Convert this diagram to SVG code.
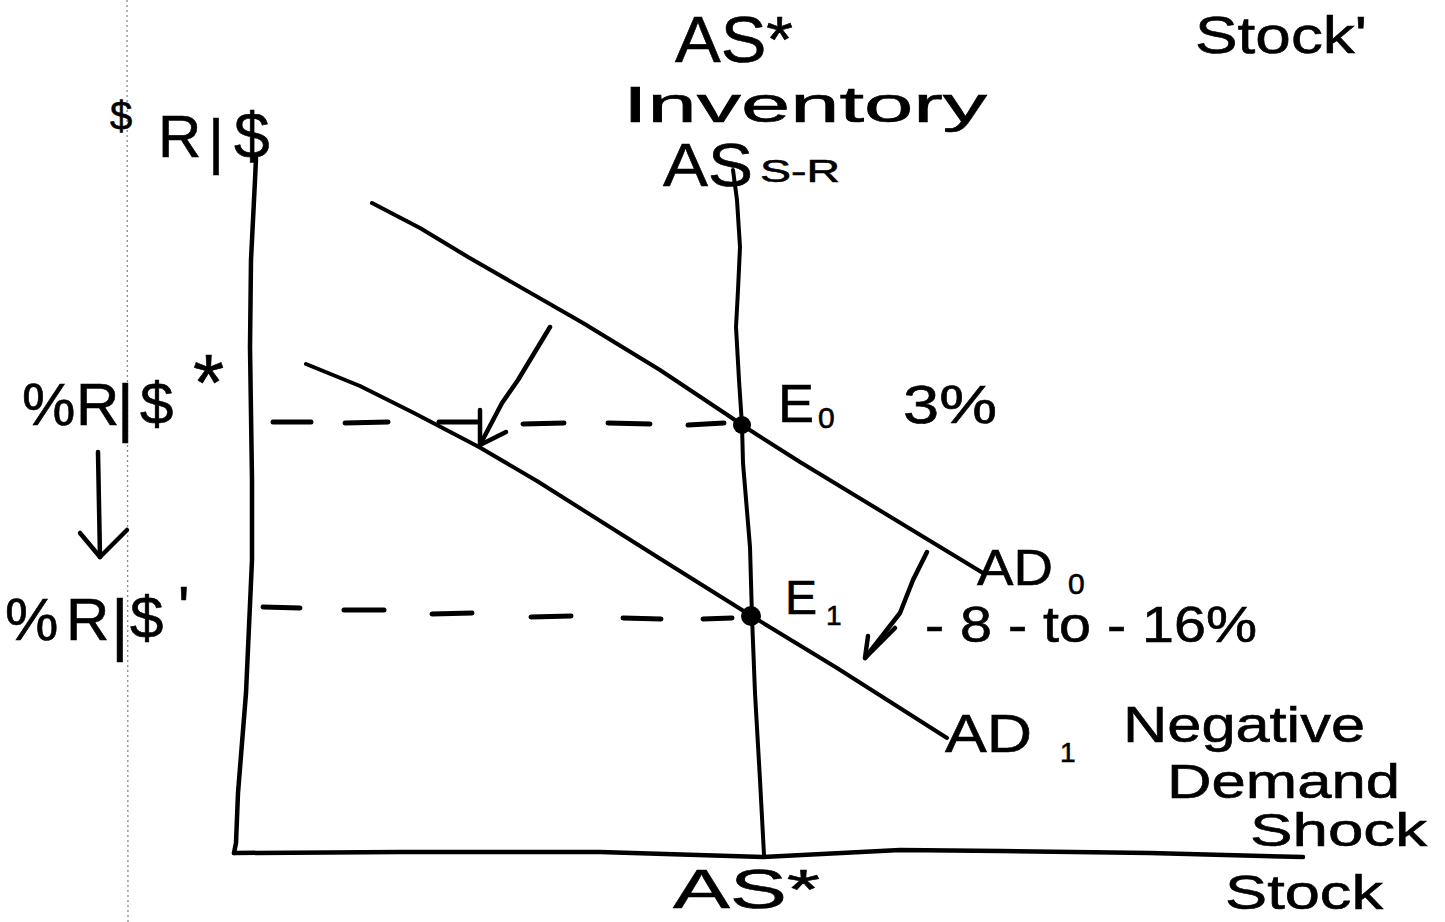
<svg xmlns="http://www.w3.org/2000/svg" width="1445" height="922" viewBox="0 0 1445 922">
<style>
  .ink { fill: none; stroke: #000; stroke-linecap: round; stroke-linejoin: round; }
  .axis { stroke-width: 4.5; }
  .curve { stroke-width: 4; }
  .dash { stroke-width: 5; }
  .arrow { stroke-width: 4.5; }
  .lbl { font-family: "Liberation Sans", Arial, sans-serif; fill: #000; stroke: #000; stroke-width: 0.6; }
  .fold { fill: none; stroke: #8a8a8a; stroke-width: 1.3; stroke-dasharray: 2 3; }
</style>
<rect width="1445" height="922" fill="#fff"/>

<!-- scan fold line -->
<line class="fold" x1="127" y1="0" x2="128" y2="922"/>

<g id="axes">
  <path class="ink axis" d="M256,158 L255,180 L251,260 L250,347 L252,480 L252,560 L246,693 L238,793 L236,843 L234,853"/>
  <path class="ink axis" d="M234,853 L400,852 L600,852 L763,857 L900,850 L1000,851 L1150,853 L1303,857"/>
</g>

<g id="as-curve">
  <path class="ink curve" d="M733,170 L737,200 L740,247 L738,290 L736,327 L739,380 L742,425 L743,463 L750,547 L752,617 L755,693 L760,780 L764,855"/>
</g>

<g id="ad0-curve">
  <path class="ink curve" d="M372,203 L420,228 L468,257 L583,323 L660,370 L732,418 L742,425 L800,462 L983,573"/>
</g>

<g id="ad1-curve">
  <path class="ink curve" d="M306,364 L360,386 L414,413 L479,447 L537,481 L659,558 L750,615 L837,668 L947,738"/>
</g>

<g id="guides">
  <path class="ink dash" d="M273,422 L311,422 M345,423 L388,422 M439,422 L479,422 M523,424 L564,423 M608,423 L650,424 M688,425 L724,423"/>
  <path class="ink dash" d="M263,607 L300,608 M344,610 L384,610 M432,614 L472,613 M531,617 L571,616 M623,618 L661,619 M703,619 L732,618"/>
</g>

<g id="connectors">
  <path class="ink arrow" d="M550,327 L518,380 L502,403 L481,443"/>
  <path class="ink arrow" d="M480,410 L480,445 L506,432"/>
  <path class="ink arrow" d="M927,552 L913,580 L900,613 L865,658"/>
  <path class="ink arrow" d="M868,636 L865,658 L895,628"/>
  <path class="ink arrow" d="M98,452 L100,557"/>
  <path class="ink arrow" d="M80,533 L100,557 L127,530"/>
</g>

<g id="point-e0">
  <circle cx="742" cy="425" r="9" fill="#000"/>
  <text class="lbl" x="778" y="422" font-size="54">E<tspan x="818" y="428" font-size="30">0</tspan></text>
  <text class="lbl" x="903" y="423" font-size="54" textLength="94" lengthAdjust="spacingAndGlyphs">3%</text>
</g>

<g id="point-e1">
  <circle cx="751" cy="616" r="10" fill="#000"/>
  <text class="lbl" x="785" y="614" font-size="48">E<tspan x="826" y="625" font-size="28">1</tspan></text>
</g>

<g id="label-y-axis">
  <text class="lbl"><tspan x="110" y="130" font-size="40">$</tspan><tspan x="158" y="157" font-size="60">R</tspan><tspan x="208" y="162" font-size="62">|</tspan><tspan x="234" y="158" font-size="64">$</tspan></text>
</g>

<g id="label-r-star">
  <text class="lbl" font-size="60"><tspan x="22" y="425">%</tspan><tspan x="76" y="425">R</tspan><tspan x="117" y="430" font-size="64">|</tspan><tspan x="140" y="424">$</tspan><tspan x="193" y="410" font-size="80">*</tspan></text>
</g>

<g id="label-r-prime">
  <text class="lbl" font-size="60"><tspan x="5" y="640">%</tspan><tspan x="66" y="640">R</tspan><tspan x="111" y="648" font-size="68">|</tspan><tspan x="130" y="638">$</tspan><tspan x="178" y="628">'</tspan></text>
</g>

<g id="label-as-top">
  <text class="lbl" x="675" y="62" font-size="64" textLength="118" lengthAdjust="spacingAndGlyphs">AS*</text>
  <text class="lbl" x="623" y="122" font-size="50" textLength="364" lengthAdjust="spacingAndGlyphs">Inventory</text>
  <text class="lbl" x="663" y="186" font-size="62" textLength="90" lengthAdjust="spacingAndGlyphs">AS</text>
  <text class="lbl" x="760" y="182" font-size="32" textLength="80" lengthAdjust="spacingAndGlyphs">S-R</text>
</g>

<g id="label-stock-prime">
  <text class="lbl" x="1195" y="53" font-size="52" textLength="172" lengthAdjust="spacingAndGlyphs">Stock'</text>
</g>

<g id="label-ad0">
  <text class="lbl" x="977" y="585" font-size="50"><tspan textLength="76" lengthAdjust="spacingAndGlyphs">AD</tspan><tspan x="1068" y="594" font-size="30">0</tspan></text>
  <text class="lbl" x="925" y="642" font-size="50" textLength="332" lengthAdjust="spacingAndGlyphs">- 8 - to - 16%</text>
</g>

<g id="label-ad1">
  <text class="lbl" x="945" y="752" font-size="54"><tspan textLength="87" lengthAdjust="spacingAndGlyphs">AD</tspan><tspan x="1060" y="762" font-size="28">1</tspan></text>
  <text class="lbl" x="1123" y="742" font-size="50" textLength="242" lengthAdjust="spacingAndGlyphs">Negative</text>
  <text class="lbl" x="1167" y="798" font-size="48" textLength="233" lengthAdjust="spacingAndGlyphs">Demand</text>
  <text class="lbl" x="1250" y="846" font-size="46" textLength="177" lengthAdjust="spacingAndGlyphs">Shock</text>
</g>

<g id="label-as-bottom">
  <text class="lbl" x="673" y="908" font-size="56" textLength="147" lengthAdjust="spacingAndGlyphs">AS*</text>
</g>

<g id="label-stock">
  <text class="lbl" x="1225" y="909" font-size="48" textLength="158" lengthAdjust="spacingAndGlyphs">Stock</text>
</g>
</svg>
